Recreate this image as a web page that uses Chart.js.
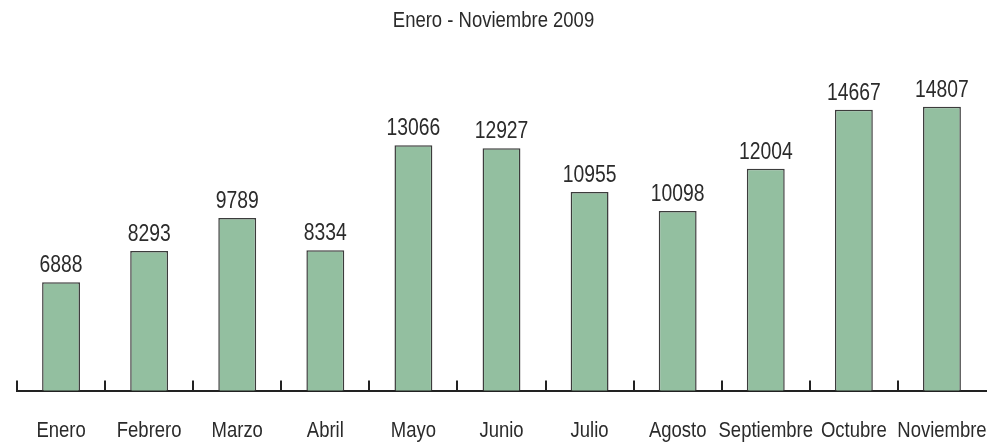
<!DOCTYPE html>
<html>
<head>
<meta charset="utf-8">
<script src="https://cdn.jsdelivr.net/npm/chart.js@4.4.1/dist/chart.umd.min.js"></script>
<style>
  html, body { margin: 0; padding: 0; background: #fff; }
  #wrap { width: 989px; height: 444px; }
</style>
</head>
<body>
<div id="wrap"><canvas id="myChart"></canvas></div>
<script>
const meses = ["Enero", "Febrero", "Marzo", "Abril", "Mayo", "Junio", "Julio", "Agosto", "Septiembre", "Octubre", "Noviembre"]
const valores = [6888, 8293, 9789, 8334, 13066, 12927, 10955, 10098, 12004, 14667, 14807]
const titulo = "Enero - Noviembre 2009"

const fuente = "'Liberation Sans', Arial, sans-serif"
const estrecho = 0.84   // el original usa una letra condensada

// texto comprimido a lo ancho
function texto(ctx, s, x, y, size) {
    ctx.save()
    ctx.translate(x, y)
    ctx.scale(estrecho, 1)
    ctx.font = size + "px " + fuente
    ctx.textAlign = 'center'
    ctx.textBaseline = 'alphabetic'
    ctx.fillText(s, 0, 0)
    ctx.restore()
}

// titulo, etiquetas, valores y marcas del eje
const extras = {
    id: 'extras',
    afterDatasetsDraw(chart) {
        const ctx = chart.ctx
        const meta = chart.getDatasetMeta(0)
        const x = chart.scales.x
        const abajo = chart.chartArea.bottom
        ctx.save()
        ctx.fillStyle = '#2b2b2b'

        texto(ctx, titulo, chart.width / 2 - 1, 27, 22)

        meta.data.forEach((bar, i) => {
            texto(ctx, String(valores[i]), bar.x, bar.y - 10, 23)
            texto(ctx, meses[i], x.getPixelForValue(i), abajo + 46, 22)
        })

        const paso = x.getPixelForValue(1) - x.getPixelForValue(0)
        ctx.strokeStyle = '#222'
        ctx.lineWidth = 2
        for (let i = 0; i < meses.length; i++) {
            let px = Math.round(x.getPixelForValue(i) - paso / 2)
            ctx.beginPath()
            ctx.moveTo(px, abajo - 10)
            ctx.lineTo(px, abajo)
            ctx.stroke()
        }
        ctx.restore()
    }
}

const ctx = document.getElementById('myChart')
const myChart = new Chart(ctx, {
    type: 'bar',
    data: {
        labels: meses,
        datasets: [{
            data: valores,
            backgroundColor: '#93bfa0',
            borderColor: '#3c3c3c',
            borderWidth: 1.5,
            barPercentage: 0.43,
            categoryPercentage: 1
        }]
    },
    options: {
        responsive: true,
        maintainAspectRatio: false,
        animation: false,
        layout: { padding: { left: 17, right: 3, top: 58, bottom: 3 } },
        plugins: {
            legend: { display: false },
            tooltip: { enabled: false },
            title: { display: false }
        },
        scales: {
            x: {
                offset: true,
                grid: { display: true, drawOnChartArea: false, color: 'transparent', drawTicks: true, tickLength: 24 },
                border: { display: true, color: '#222', width: 2 },
                ticks: { color: 'transparent', padding: 0, maxRotation: 0, autoSkip: false, font: { family: fuente, size: 22 } },
                afterFit(scale) { scale.paddingLeft = 0; scale.paddingRight = 0 }
            },
            y: {
                display: false,
                min: 2000,
                max: 17000
            }
        }
    },
    plugins: [extras]
});
</script>
</body>
</html>
